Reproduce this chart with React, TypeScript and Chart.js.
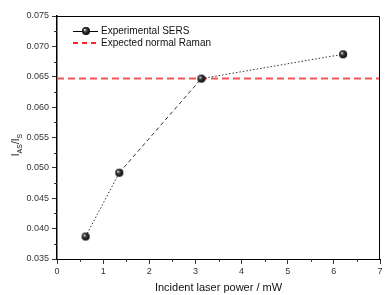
import React, { useEffect, useRef } from "react";
import { Chart, registerables } from "chart.js";

Chart.register(...registerables);

const powerMW = [0.62, 1.35, 3.13, 6.2];
const ratioIasIs = [0.0387, 0.0492, 0.0647, 0.0687];
const normalRamanLevel = 0.0647;
const normalRamanX = [0, 7];
const seriesNames = ["Experimental SERS", "Expected normal Raman"];
const xTitle = "Incident laser power / mW";

const FONT = "'Liberation Sans', Arial, sans-serif";
const RED = "#f45555";

function makeBall(r: number) {
  const c = document.createElement("canvas");
  const s = r * 2 + 2;
  c.width = s;
  c.height = s;
  const ctx = c.getContext("2d")!;
  const g = ctx.createRadialGradient(s / 2 - r * 0.35, s / 2 - r * 0.35, 0.3, s / 2, s / 2, r);
  g.addColorStop(0, "#e8e8e8");
  g.addColorStop(0.35, "#444");
  g.addColorStop(1, "#000");
  ctx.fillStyle = g;
  ctx.beginPath();
  ctx.arc(s / 2, s / 2, r, 0, Math.PI * 2);
  ctx.fill();
  return c;
}

export default function App() {
  const ref = useRef<HTMLCanvasElement>(null);
  useEffect(() => {
    const ball = makeBall(4);
    const decor = {
      id: "decor",
      afterDraw(chart: any) {
        const ctx = chart.ctx;
        const a = chart.chartArea;
        const xs = chart.scales.x;
        const ys = chart.scales.y;
        ctx.save();
        // frame top/right
        ctx.strokeStyle = "#000";
        ctx.lineWidth = 1;
        ctx.beginPath();
        ctx.moveTo(a.left, a.top + 0.5);
        ctx.lineTo(a.right - 0.5, a.top + 0.5);
        ctx.lineTo(a.right - 0.5, a.bottom);
        ctx.stroke();
        // minor ticks
        ctx.strokeStyle = "#333";
        ctx.beginPath();
        for (let v = 0.5; v < 7; v += 1) {
          const px = Math.round(xs.getPixelForValue(v)) + 0.5;
          ctx.moveTo(px, a.bottom);
          ctx.lineTo(px, a.bottom + 3);
        }
        for (let v = 0.0375; v < 0.075; v += 0.005) {
          const py = Math.round(ys.getPixelForValue(v)) + 0.5;
          ctx.moveTo(a.left, py);
          ctx.lineTo(a.left - 3, py);
        }
        ctx.stroke();
        // legend
        ctx.strokeStyle = "#000";
        ctx.lineWidth = 1;
        ctx.beginPath();
        ctx.moveTo(73, 31.5);
        ctx.lineTo(98, 31.5);
        ctx.stroke();
        ctx.drawImage(ball, 86 - 5, 31 - 5);
        ctx.strokeStyle = "#ff2020";
        ctx.lineWidth = 2;
        ctx.setLineDash([5, 4]);
        ctx.beginPath();
        ctx.moveTo(73, 43);
        ctx.lineTo(98, 43);
        ctx.stroke();
        ctx.setLineDash([]);
        ctx.fillStyle = "#111";
        ctx.font = `10px ${FONT}`;
        ctx.textBaseline = "middle";
        ctx.textAlign = "left";
        ctx.fillText(seriesNames[0], 101, 31);
        ctx.fillText(seriesNames[1], 101, 43);
        // y title with subscripts
        ctx.translate(19, 145);
        ctx.rotate(-Math.PI / 2);
        const parts: [string, boolean][] = [["I", false], ["AS", true], ["/I", false], ["S", true]];
        let w = 0;
        for (const [t, sub] of parts) {
          ctx.font = sub ? `7px ${FONT}` : `10px ${FONT}`;
          w += ctx.measureText(t).width;
        }
        let x = -w / 2;
        ctx.textBaseline = "alphabetic";
        for (const [t, sub] of parts) {
          ctx.font = sub ? `7px ${FONT}` : `10px ${FONT}`;
          ctx.fillText(t, x, sub ? 3 : 0);
          x += ctx.measureText(t).width;
        }
        ctx.restore();
      },
    };
    const chart = new Chart(ref.current!, {
      type: "scatter",
      data: {
        datasets: [
          {
            label: seriesNames[1],
            data: normalRamanX.map((x) => ({ x, y: normalRamanLevel })),
            showLine: true,
            borderColor: RED,
            borderWidth: 2,
            borderDash: [7, 4],
            pointRadius: 0,
            order: 2,
          },
          {
            label: seriesNames[0],
            data: powerMW.map((x, i) => ({ x, y: ratioIasIs[i] })),
            showLine: true,
            borderColor: "#333",
            borderWidth: 1,
            pointStyle: ball as any,
            pointRadius: 4,
            segment: {
              borderDash: (ctx: any) => (ctx.p0DataIndex === 1 ? [4, 3] : [1.5, 2]),
            },
            order: 1,
          },
        ],
      },
      options: {
        animation: false,
        responsive: false,
        layout: { padding: { top: 16, right: 2, left: 0, bottom: 0 } },
        plugins: { legend: { display: false }, tooltip: { enabled: false } },
        scales: {
          x: {
            type: "linear",
            min: 0,
            max: 7,
            ticks: { stepSize: 1, color: "#333", font: { family: FONT, size: 9 }, padding: 2 },
            grid: { drawOnChartArea: false, tickLength: 5, tickColor: "#333" },
            border: { color: "#000", width: 1 },
            title: { display: true, text: xTitle, color: "#111", font: { family: FONT, size: 11 }, padding: { top: 2, bottom: 0 } },
            afterFit: (s: any) => {
              s.height = 36;
            },
          },
          y: {
            min: 0.035,
            max: 0.075,
            ticks: {
              stepSize: 0.005,
              color: "#333",
              font: { family: FONT, size: 9 },
              padding: 3,
              callback: (v: any) => Number(v).toFixed(3),
            },
            grid: { drawOnChartArea: false, tickLength: 5, tickColor: "#333" },
            border: { color: "#000", width: 1.5 },
            afterFit: (s: any) => {
              s.width = 57;
            },
          },
        },
      },
      plugins: [decor],
    });
    return () => chart.destroy();
  }, []);
  return (
    <div style={{ position: "absolute", left: 0, top: 0, width: 385, height: 295, background: "#fff" }}>
      <canvas ref={ref} width={385} height={295} style={{ display: "block" }} />
    </div>
  );
}
